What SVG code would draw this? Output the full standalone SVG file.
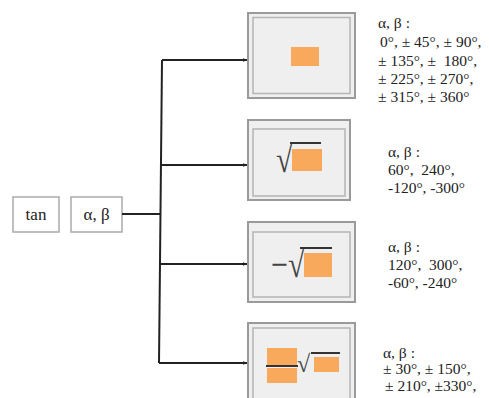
<svg xmlns="http://www.w3.org/2000/svg" width="489" height="398" viewBox="0 0 489 398">
<defs>
<style>
.lbl{fill:#fff;stroke:#aaa;stroke-width:1.5}
.lt{font-family:"Liberation Serif",serif;font-size:17px;fill:#222}
.frame{fill:#efefef;stroke:#9a9a9a;stroke-width:2}
.inner{fill:none;stroke:#b5b5b5;stroke-width:1.5}
.or{fill:#f9a95b}
.t{font-family:"Liberation Serif",serif;font-size:15.5px;fill:#222;white-space:pre}
.sym{font-family:"Liberation Serif",serif;fill:#444}
.bar{stroke:#333;stroke-width:2}
.con{fill:none;stroke:#222;stroke-width:2}
</style>
<marker id="ah" viewBox="0 0 10 10" refX="9" refY="5" markerWidth="5" markerHeight="5" orient="auto" markerUnits="userSpaceOnUse">
<path d="M0,1 L10,5 L0,9 z" fill="#222"/>
</marker>
</defs>
<g id="n-tan">
<rect class="lbl" x="13" y="197" width="46" height="35"/>
<text class="lt" x="36" y="220" text-anchor="middle">tan</text>
</g>
<g id="n-ab">
<rect class="lbl" x="71" y="197" width="51" height="35"/>
<text class="lt" x="96.5" y="220" text-anchor="middle">α, β</text>
</g>
<g id="connectors">
<path class="con" d="M122,214 L160,214"/>
<path class="con" d="M162,60 L159,363"/>
<path class="con" d="M162,60 L247,60" marker-end="url(#ah)"/>
<path class="con" d="M161,165 L247,165" marker-end="url(#ah)"/>
<path class="con" d="M160,264 L247,264" marker-end="url(#ah)"/>
<path class="con" d="M159,363 L247,363" marker-end="url(#ah)"/>
</g>
<g id="n-case1">
<rect class="frame" x="248" y="13" width="107" height="85"/>
<rect class="inner" x="253" y="17.5" width="97" height="76"/>
<rect class="or" x="291" y="47" width="28" height="19"/>
<text class="t" x="378" y="28">α, β :</text>
<text class="t" x="380" y="47">0°, ± 45°, ± 90°,</text>
<text class="t" x="378" y="66">± 135°, ±  180°,</text>
<text class="t" x="378" y="84">± 225°, ± 270°,</text>
<text class="t" x="378" y="102">± 315°, ± 360°</text>
</g>
<g id="n-case2">
<rect class="frame" x="248" y="120" width="102" height="80"/>
<rect class="inner" x="253" y="129" width="92" height="67"/>
<rect class="or" x="292" y="149" width="30" height="22"/>
<text class="sym" font-size="30" transform="translate(276,172) scale(1,1.25)">√</text>
<line class="bar" x1="290" y1="143" x2="321" y2="143"/>
<text class="t" x="388" y="157">α, β :</text>
<text class="t" x="388" y="175">60°,  240°,</text>
<text class="t" x="388" y="193">-120°, -300°</text>
</g>
<g id="n-case3">
<rect class="frame" x="248" y="222" width="107" height="80"/>
<rect class="inner" x="253" y="232" width="97" height="65"/>
<rect class="or" x="304" y="253" width="28" height="24"/>
<text class="sym" font-size="30" transform="translate(271,277) scale(1,1.25)">−√</text>
<line class="bar" x1="300" y1="248" x2="332" y2="248"/>
<text class="t" x="388" y="252">α, β :</text>
<text class="t" x="388" y="270">120°,  300°,</text>
<text class="t" x="388" y="288">-60°, -240°</text>
</g>
<g id="n-case4">
<rect class="frame" x="248" y="323" width="107" height="90"/>
<rect class="inner" x="253" y="328" width="97" height="85"/>
<rect class="or" x="267" y="348" width="30" height="17"/>
<line class="bar" x1="266" y1="366" x2="298" y2="366"/>
<rect class="or" x="267" y="368" width="30" height="15"/>
<text class="sym" x="297" y="372" font-size="24">√</text>
<line class="bar" x1="311" y1="353" x2="340" y2="353"/>
<rect class="or" x="314" y="357" width="25" height="15"/>
<text class="t" x="383" y="358">α, β :</text>
<text class="t" x="383" y="374">± 30°, ± 150°,</text>
<text class="t" x="385" y="391">± 210°, ±330°,</text>
</g>
</svg>
